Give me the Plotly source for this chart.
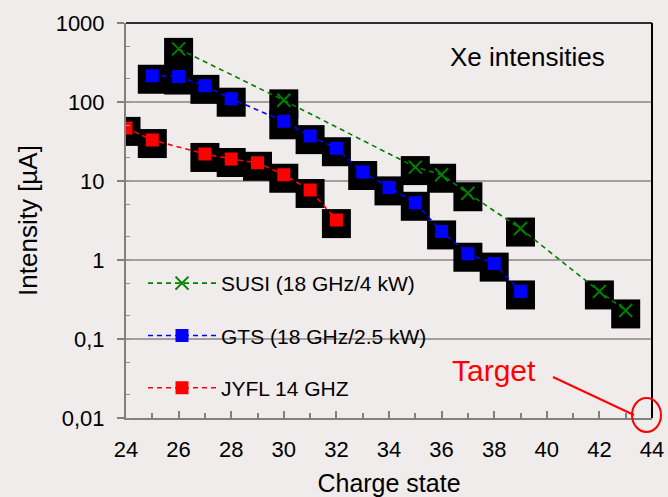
import plotly.graph_objects as go

# ---- data ----
susi_q = [26, 30, 35, 36, 37, 39, 42, 43]
susi_i = [470, 105, 15, 12, 7, 2.5, 0.4, 0.23]

gts_q = [25, 26, 27, 28, 30, 31, 32, 33, 34, 35, 36, 37, 38, 39]
gts_i = [215, 210, 160, 110, 57, 37, 26, 13, 8.3, 5.3, 2.3, 1.2, 0.9, 0.4]

jyfl_q = [24, 25, 27, 28, 29, 30, 31, 32]
jyfl_i = [47, 33, 22, 19, 17, 12, 7.7, 3.2]

y_tickvals = [0.01, 0.1, 1, 10, 100, 1000]
y_ticktext = ["0,01", "0,1", "1", "10", "100", "1000"]
x_tickvals = list(range(24, 45, 2))

names = ["SUSI (18 GHz/4 kW)", "GTS (18 GHz/2.5 kW)", "JYFL 14 GHZ"]
colors = ["#008000", "#0000ff", "#ff0000"]

BG = "#f0ecec"
FONT = "Liberation Sans, Arial, sans-serif"

# plot-area geometry (pixels) used for paper-referenced decorations
L, R, T, B = 126, 652, 23, 418
W, H = 668, 497


def px(x):
    return (x - L) / (R - L)


def py(y):
    return (B - y) / (B - T)


# the black boxes sit slightly below the markers in the original
BOX_SHIFT = 10 ** (-3.5 / 79)

fig = go.Figure()

# black boxes behind the markers
for q, v in [(susi_q, susi_i), (gts_q, gts_i), (jyfl_q, jyfl_i)]:
    fig.add_trace(go.Scatter(
        x=q, y=[val * BOX_SHIFT for val in v], mode="markers",
        showlegend=False, hoverinfo="skip",
        marker=dict(symbol="square", size=29, color="black", line=dict(width=0)),
    ))

series = [
    (susi_q, susi_i, "x-thin-open", 13, 0),
    (gts_q, gts_i, "square", 11, 1),
    (jyfl_q, jyfl_i, "square", 11, 2),
]
for q, v, sym, sz, k in series:
    fig.add_trace(go.Scatter(
        x=q, y=v, mode="lines+markers", name=names[k],
        legendgroup=names[k],
        line=dict(color=colors[k], width=1.6, dash="5px,4px"),
        marker=dict(symbol=sym, size=sz, color=colors[k],
                    line=dict(color=colors[k], width=2)),
    ))

fig.update_layout(
    width=W, height=H,
    margin=dict(l=L, r=W - R, t=T, b=H - B),
    paper_bgcolor=BG, plot_bgcolor=BG,
    font=dict(family=FONT, size=22, color="black"),
    legend=dict(
        x=px(143), y=py(263), xanchor="left", yanchor="top",
        bgcolor="rgba(0,0,0,0)", font=dict(size=21, family=FONT),
        itemwidth=68, tracegroupgap=22,
    ),
    xaxis=dict(
        range=[24, 44], tickvals=x_tickvals, ticks="inside", ticklen=7,
        tickwidth=2, tickcolor="#808080",
        minor=dict(dtick=1, ticks="inside", ticklen=5, tickwidth=2, tickcolor="#808080"),
        showline=True, linecolor="#808080", linewidth=2,
        showgrid=False, zeroline=False, automargin=False,
        tickfont=dict(size=22), ticklabelstandoff=11,
        title=dict(text="Charge state", font=dict(size=25), standoff=15),
    ),
    yaxis=dict(
        type="log", range=[-2, 3], tickvals=y_tickvals, ticktext=y_ticktext,
        ticks="outside", ticklen=7, tickwidth=2, tickcolor="#808080",
        minor=dict(ticks="inside", ticklen=4, tickwidth=1, tickcolor="#909090", showgrid=False),
        showline=True, linecolor="#808080", linewidth=2,
        showgrid=True, gridcolor="#a0a0a0", gridwidth=2,
        zeroline=False, automargin=False,
        tickfont=dict(size=22), ticklabelstandoff=8,
        title=dict(text="Intensity [µA]", font=dict(size=26), standoff=11),
    ),
)

# frame: top and right borders
fig.add_shape(type="line", xref="paper", yref="paper", x0=0, x1=1, y0=1, y1=1,
              line=dict(color="#303030", width=2))
fig.add_shape(type="line", xref="paper", yref="paper", x0=1, x1=1, y0=0, y1=1,
              line=dict(color="black", width=2))

# annotations
fig.add_annotation(text="Xe intensities", xref="paper", yref="paper",
                   x=px(527), y=py(57), xanchor="center", yanchor="middle",
                   showarrow=False, font=dict(size=26, color="black"))
fig.add_annotation(text="Target", xref="paper", yref="paper",
                   x=px(494), y=py(370), xanchor="center", yanchor="middle",
                   showarrow=False, font=dict(size=30, color="#ff0000"))
fig.add_shape(type="line", xref="paper", yref="paper",
              x0=px(553), y0=py(377), x1=px(634), y1=py(415),
              line=dict(color="#ff0000", width=2))
fig.add_shape(type="circle", xref="paper", yref="paper",
              x0=px(632), x1=px(661), y0=py(432), y1=py(398),
              line=dict(color="#ff0000", width=2))

fig.write_html("out.html")
